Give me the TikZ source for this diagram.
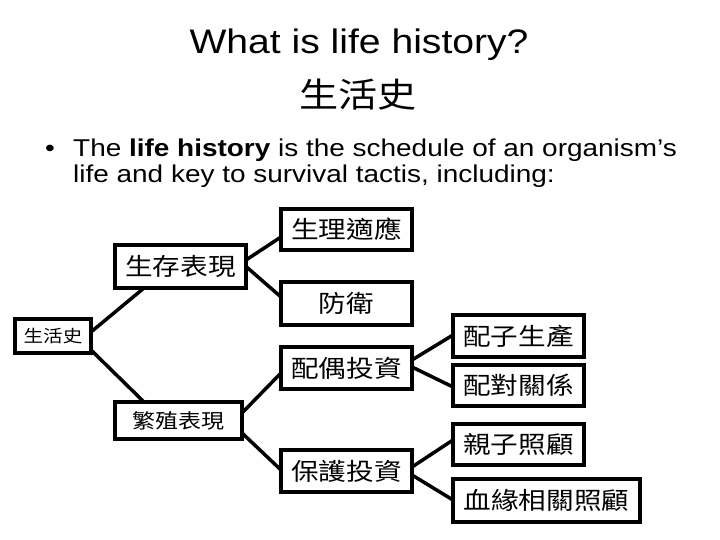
\documentclass[tikz,border=0pt]{standalone}
\usepackage{fontspec}
\usepackage{tikz}

\setmainfont{Liberation Sans}[FakeStretch=1.15]
\newfontfamily\cjk{Noto Sans CJK TC}[FakeStretch=1.15]

\begin{document}
\begin{tikzpicture}[x=1pt, y=-1pt,
    box/.style={draw, line width=3.5pt, inner sep=0pt, outer sep=0pt,
      minimum width=131pt, minimum height=42pt, font=\cjk\fontsize{24}{28}\selectfont},
    link/.style={line width=3.5pt}]
  \useasboundingbox (0,0) rectangle (720,540);

  \node[anchor=base, font=\fontsize{34}{40}\selectfont] (title) at (359,54) {What is life history?};
  \node[font=\cjk\fontsize{34}{40}\selectfont] (subtitle) at (358,95) {生活史};
  \node[anchor=base, font=\fontsize{24.3}{28}\selectfont] (dot) at (50,157) {•};
  \node[anchor=base west, inner sep=0pt, font=\fontsize{24.3}{28}\selectfont] (line1) at (73,157)
    {The \textbf{life history} is the schedule of an organism’s};
  \node[anchor=base west, inner sep=0pt, font=\fontsize{24.3}{28}\selectfont] (line2) at (73,183)
    {life and key to survival tactis, including:};

  \node[box, minimum width=76pt, minimum height=34pt, font=\cjk\fontsize{17}{20}\selectfont] (root) at (53,336) {生活史};
  \node[box, minimum height=43pt] (surv) at (180.5,266.5) {生存表現};
  \node[box, minimum width=127pt, minimum height=37pt, font=\cjk\fontsize{20}{24}\selectfont] (repro) at (178.5,420.5) {繁殖表現};

  \node[box, minimum height=41pt] (phys) at (346.5,229.5) {生理適應};
  \node[box, minimum height=43pt] (defn) at (346.5,303.5) {防衛};
  \node[box] (mate) at (346.5,368) {配偶投資};
  \node[box] (prot) at (346.5,471) {保護投資};

  \node[box] (gam) at (518.5,336) {配子生產};
  \node[box, minimum height=41pt] (pair) at (518.5,385.5) {配對關係};
  \node[box, minimum height=41pt] (care) at (518.5,444.5) {親子照顧};
  \node[box, minimum width=187pt, minimum height=43pt] (kin) at (546.5,500.5) {血緣相關照顧};

  \draw[link] ([yshift=4pt]root.east) -- ([xshift=29pt]surv.south west);
  \draw[link] ([yshift=-14pt]root.east) -- ([xshift=29pt]repro.north west);
  \foreach \a/\sa/\b/\sb in {surv/6.5/phys/-7.5, surv/0/defn/6.5,
      repro/7.5/mate/-5, repro/-12.5/prot/1,
      mate/8/gam/1, mate/1/pair/-1.5,
      prot/4/care/4.5, prot/-4/kin/0.5}
    \draw[link] ([yshift=\sa pt]\a.east) -- ([yshift=\sb pt]\b.west);
\end{tikzpicture}
\end{document}
